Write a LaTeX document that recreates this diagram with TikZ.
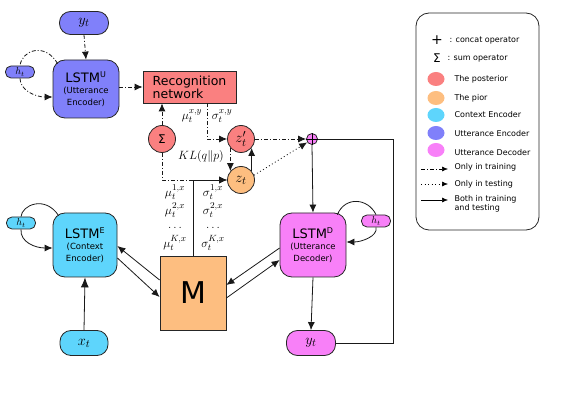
\documentclass[tikz,border=0pt]{standalone}
\usepackage{fontspec}
\setsansfont{DejaVu Sans}
\usetikzlibrary{arrows.meta,calc,shapes.geometric}
\definecolor{cpost}{RGB}{250,128,128}
\definecolor{cprior}{RGB}{253,190,128}
\definecolor{cctx}{RGB}{94,213,252}
\definecolor{cue}{RGB}{128,128,250}
\definecolor{cud}{RGB}{248,128,248}
\begin{document}
\begin{tikzpicture}[x=1pt,y=-1pt,
  every node/.style={font=\sffamily},
  base/.style={draw=black!85, line width=0.8pt, inner sep=0pt},
  lstm/.style={base, rounded corners=12pt, align=center},
  pill/.style={base, rounded corners=11pt},
  spill/.style={base, rounded corners=5.5pt, minimum width=29pt, minimum height=12pt},
  circ/.style={base, circle, minimum size=27pt},
  ln/.style={line width=0.8pt, black!90},
  arr/.style={ln, -{Latex[length=8pt,width=7pt]}},
  dd/.style={dash pattern=on 4pt off 2pt on 1pt off 2pt},
  dt/.style={dash pattern=on 1pt off 2.5pt},
  lab/.style={font=\fontsize{8}{9.5}\selectfont\sffamily, anchor=west, align=left},
  mth/.style={font=\fontsize{13}{13}\selectfont, inner sep=0pt}
]
\useasboundingbox (0,0) rectangle (582,401);

% ---- nodes
\node[pill, fill=cue, minimum width=49pt, minimum height=23pt] (yu) at (84,23) {\fontsize{15}{15}\selectfont$y_t$};
\node[lstm, fill=cue, minimum width=66pt, minimum height=58pt] (lu) at (86,89)
  {\fontsize{13}{14}\selectfont LSTM\textsuperscript{\fontsize{8}{8}\selectfont U}\\[-1pt]\fontsize{8.5}{10}\selectfont (Utterance\\\fontsize{8.5}{10}\selectfont Encoder)};
\node[spill, fill=cue] (hu) at (20,72) {\fontsize{10}{10}\selectfont$h_t$};
\node[base, fill=cpost, minimum width=93pt, minimum height=32pt, align=left] (rec) at (189.5,87)
  {\fontsize{12.5}{13}\selectfont Recognition\\\fontsize{12.5}{13}\selectfont network};
\node[circ, fill=cpost] (sig) at (162,139) {\fontsize{12}{12}\selectfont Σ};
\node[circ, fill=cpost] (zp) at (241,139) {\fontsize{15}{15}\selectfont$z'_t$};
\node[circ, fill=cprior] (zz) at (241,180) {\fontsize{15}{15}\selectfont$z_t$};
\node[base, circle, fill=cud, minimum size=11pt] (plus) at (312,139) {};
\draw[line width=0.7pt] (plus.north) -- (plus.south) (plus.west) -- (plus.east);
\node[base, fill=cprior, minimum width=66pt, minimum height=74pt] (M) at (193,293) {\fontsize{30}{30}\selectfont M};
\node[lstm, fill=cctx, minimum width=64pt, minimum height=64pt] (le) at (85,245)
  {\fontsize{13}{14}\selectfont LSTM\textsuperscript{\fontsize{8}{8}\selectfont E}\\[-1pt]\fontsize{8.5}{10}\selectfont (Context\\\fontsize{8.5}{10}\selectfont Encoder)};
\node[spill, fill=cctx] (he) at (21,223) {\fontsize{10}{10}\selectfont$h_t$};
\node[pill, fill=cctx, minimum width=48pt, minimum height=25pt] (xt) at (84,343) {\fontsize{15}{15}\selectfont$x_t$};
\node[lstm, fill=cud, minimum width=66pt, minimum height=64pt] (ld) at (313,245)
  {\fontsize{13}{14}\selectfont LSTM\textsuperscript{\fontsize{8}{8}\selectfont D}\\[-1pt]\fontsize{8.5}{10}\selectfont (Utterance\\\fontsize{8.5}{10}\selectfont Decoder)};
\node[spill, fill=cud] (hd) at (376,221) {\fontsize{10}{10}\selectfont$h_t$};
\node[pill, fill=cud, minimum width=49pt, minimum height=25pt] (yd) at (311,343) {\fontsize{15}{15}\selectfont$y_t$};

% ---- labels
\node[mth] (muxy) at (192,116) {$\mu_t^{x,y}$};
\node[mth] (sgxy) at (222,116) {$\sigma_t^{x,y}$};
\node[mth] (kl) at (201,157) {$KL(q\|p)$};
\node[mth] (m1) at (175,192) {$\mu_t^{1,x}$};
\node[mth] (m2) at (175,210.5) {$\mu_t^{2,x}$};
\node[mth] (m3) at (175,227.5) {$\dots$};
\node[mth] (m4) at (175,243) {$\mu_t^{K,x}$};
\node[mth] (s1) at (213,192) {$\sigma_t^{1,x}$};
\node[mth] (s2) at (213,210.5) {$\sigma_t^{2,x}$};
\node[mth] (s3) at (213,227.5) {$\dots$};
\node[mth] (s4) at (213,243) {$\sigma_t^{K,x}$};

% ---- connectors
\draw[arr,dd] (yu.south) -- (lu.north);
\draw[arr,dd] (lu.east |- rec.west) -- (rec.west);
\draw[arr,dd] (sig.north) -- (rec.south -| sig.north);
\coordinate (rb) at ($(rec.south)+(17.5,0)$);
\draw[arr,dd] (rb) |- (zp.west);
\draw[arr,dd] (zp.220) -- (zz.140);
\draw[arr] (zz.40) -- (zp.320);
\draw[arr,dd] (sig.south) |- (zz.west);
\draw[arr] (M.north) |- (zz.west);
\draw[arr,dd] (zp.east) -- (plus.west);
\draw[arr,dt] (zz.20) -- (plus.215);
\draw[arr] (plus.south) -- (ld.north);
\coordinate (rc) at (393,139);
\draw[ln] (plus.east) -- (rc) |- (yd.east);
\draw[arr] (ld.south) -- (yd.north);
\draw[ln,-{Latex[length=10pt,width=8pt]}] (xt.north) -- (le.south);

% loops
\draw[ln,dd] ($(lu.north west)+(5,4)$) .. controls (45,42) and (22,50) .. (hu.north);
\draw[arr,dd] (hu.south) .. controls (20,90) and (35,97) .. ($(lu.west)+(0,8)$);
\draw[ln] ($(le.north west)+(6,3)$) .. controls (45,195) and (22,205) .. (he.north);
\draw[arr] (he.south) .. controls (20,242) and (35,248) .. ($(le.west)+(0,3)$);
\draw[ln] ($(ld.north east)+(-9,2)$) .. controls (345,196) and (368,198) .. (hd.north);
\draw[arr] (hd.south) .. controls (378,236) and (362,242) .. ($(ld.east)+(0,-3)$);

% M <-> encoders/decoder
\draw[arr] ($(M.west)+(0,-13)$) -- ($(le.east)+(0,1)$);
\draw[arr] ($(le.east)+(0,13)$) -- ($(M.west)+(0,4)$);
\draw[arr] ($(ld.west)+(0,3)$) -- ($(M.east)+(0,-8)$);
\draw[arr] ($(M.east)+(0,5)$) -- ($(ld.west)+(0,15)$);

% ---- legend
\node[base, rounded corners=13pt, minimum width=123pt, minimum height=217pt] (leg) at (477.5,121.5) {};
\node (lp) at (437,40) {\fontsize{14}{14}\selectfont +};
\node[lab] (lpt) at (446,41) {: concat operator};
\node (ls) at (437,58) {\fontsize{12}{12}\selectfont Σ};
\node[lab] (lst) at (444,59) {: sum operator};
\tikzset{blob/.style={ellipse, fill=#1, minimum width=17pt, minimum height=14pt, inner sep=0pt}}
\node[blob=cpost] (b1) at (436,79) {};
\node[lab] (t1) at (451,79) {The posterior};
\node[blob=cprior] (b2) at (436,98) {};
\node[lab] (t2) at (451,98) {The pior};
\node[blob=cctx] (b3) at (436,115) {};
\node[lab] (t3) at (451,115) {Context Encoder};
\node[blob=cue] (b4) at (436,133) {};
\node[lab] (t4) at (451,134) {Utterance Encoder};
\node[blob=cud] (b5) at (436,150) {};
\node[lab] (t5) at (451,153) {Utterance Decoder};
\coordinate (l1a) at (421,169); \coordinate (l1b) at (448,169);
\draw[dd, line width=0.6pt, -{Latex[length=6pt,width=5pt]}] (l1a) -- (l1b);
\node[lab] (t6) at (451,167) {Only in training};
\coordinate (l2a) at (421,184); \coordinate (l2b) at (448,184);
\draw[dt, line width=0.6pt, -{Latex[length=6pt,width=5pt]}] (l2a) -- (l2b);
\node[lab] (t7) at (451,184) {Only in testing};
\coordinate (l3a) at (421,200); \coordinate (l3b) at (448,200);
\draw[line width=0.6pt, -{Latex[length=6pt,width=5pt]}] (l3a) -- (l3b);
\node[lab] (t8) at (451,204) {Both in training\\and testing};
\end{tikzpicture}
\end{document}
